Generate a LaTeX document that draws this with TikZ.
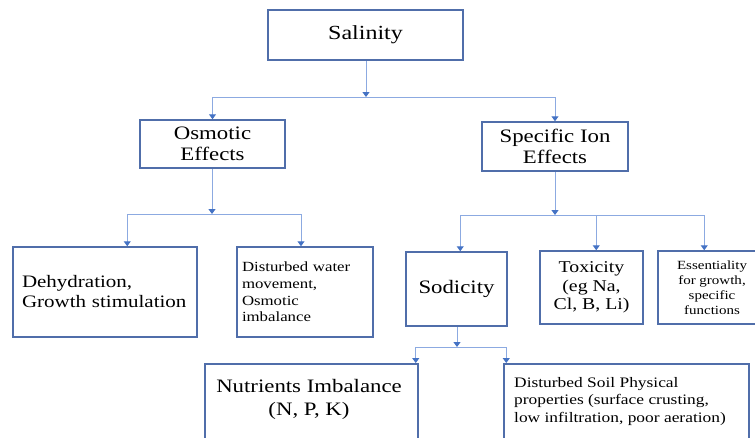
\documentclass[tikz,border=0pt]{standalone}
\usepackage{fontspec}
\setmainfont{Liberation Serif}[FakeStretch=1.2]
\usetikzlibrary{arrows.meta}
\definecolor{boxline}{RGB}{80,110,170}
\definecolor{conline}{RGB}{140,170,225}
\definecolor{tipblue}{RGB}{68,114,196}
\tikzset{
  box/.style={draw=boxline,line width=1.5pt,inner sep=0pt,minimum width=#1},
  conn/.style={draw=conline,line width=1pt,-{Triangle[length=5pt,width=7pt,color=tipblue]}},
  fs/.style n args={2}{font=\fontsize{#1}{#2}\selectfont}
}
\begin{document}
\begin{tikzpicture}[x=1pt,y=-1pt]
\useasboundingbox (0,0) rectangle (755,437);
\clip (0,0) rectangle (755,437);
% boxes
\node[box=195,minimum height=50,fs={20}{24}] (sal) at (365.5,35) {Salinity};
\node[box=145,minimum height=48,fs={19}{21},align=center] (osm) at (212.5,144) {Osmotic\\Effects};
\node[box=146,minimum height=49,fs={19}{21},align=center] (spec) at (555,146.5) {Specific Ion\\Effects};
\node[box=184,minimum height=90,fs={17.5}{20},align=left,text width=166,inner xsep=9] (deh) at (105,292) {Dehydration,\\Growth stimulation};
\node[box=136,minimum height=90,fs={14}{16.7},align=left,text width=126,inner xsep=5] (dwm) at (305,292) {Disturbed water\\movement,\\Osmotic\\imbalance};
\node[box=101,minimum height=74,fs={19}{22}] (sod) at (456.5,289) {Sodicity};
\node[box=103,minimum height=73,fs={16.5}{18.3},align=center] (tox) at (591.5,287.5) {Toxicity\\(eg Na,\\Cl, B, Li)};
\node[box=108,minimum height=73,fs={12.5}{15},align=center] (ess) at (712,287.5) {Essentiality\\for growth,\\specific\\functions};
\node[box=213,minimum height=110,anchor=north] (nut) at (311.5,363) {};
\node[fs={19}{22.7},align=center,anchor=north,inner sep=0pt] (nutt) at (309,379) {Nutrients Imbalance\\(N, P, K)};
\node[box=245,minimum height=110,anchor=north] (dsp) at (626.5,363) {};
\node[fs={14.5}{17.5},align=left,anchor=north west,inner sep=0pt] (dspt) at (514,377) {Disturbed Soil Physical\\properties (surface crusting,\\low infiltration, poor aeration)};
% junctions
\coordinate (j1) at (366,97);
\coordinate (j2) at (212,214);
\coordinate (j3) at (555,215);
\coordinate (j4) at (457,347);
% connectors
\draw[conn] (sal.south -| j1) -- (j1);
\draw[conn] (j1) -| (osm.north);
\draw[conn] (j1) -| (spec.north);
\draw[conn] (osm.south -| j2) -- (j2);
\draw[conn] (j2) -| ([xshift=115]deh.north west);
\draw[conn] (j2) -| ([xshift=-4]dwm.north);
\draw[conn] (spec.south) -- (j3);
\draw[conn] (j3) -| ([xshift=55]sod.north west);
\draw[conn] (j3) -| ([xshift=57]tox.north west);
\draw[conn] (j3) -| ([xshift=47]ess.north west);
\draw[conn] (sod.south -| j4) -- (j4);
\draw[conn] (j4) -| ([xshift=-3]nut.north east);
\draw[conn] (j4) -| ([xshift=3]dsp.north west);
\end{tikzpicture}
\end{document}
